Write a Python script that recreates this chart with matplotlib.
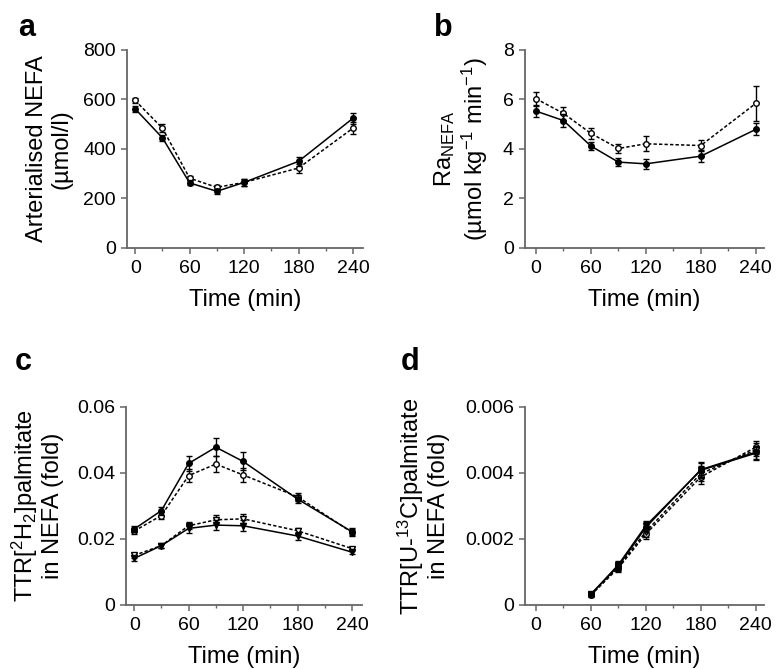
import matplotlib
matplotlib.use('Agg')
import matplotlib.pyplot as plt
from matplotlib.ticker import FixedLocator

plt.rcParams['font.family'] = ['Liberation Sans', 'DejaVu Sans']

# data
times = [0, 30, 60, 90, 120, 180, 240]
times_d = [60, 90, 120, 180, 240]

nefa_filled = [562, 445, 263, 229, 265, 350, 524]
nefa_filled_err = [12, 12, 10, 10, 15, 18, 22]
nefa_open = [596, 484, 282, 245, 265, 323, 484]
nefa_open_err = [12, 15, 10, 10, 15, 18, 25]

ra_filled = [5.53, 5.15, 4.12, 3.47, 3.40, 3.71, 4.79]
ra_filled_err = [0.23, 0.26, 0.18, 0.16, 0.20, 0.23, 0.24]
ra_open = [6.03, 5.44, 4.63, 4.02, 4.21, 4.14, 5.84]
ra_open_err = [0.29, 0.27, 0.23, 0.20, 0.31, 0.22, 0.71]

h2_circ_filled = [0.0230, 0.0286, 0.0429, 0.0478, 0.0435, 0.0321, 0.0222]
h2_circ_filled_err = [0.0010, 0.0012, 0.0022, 0.0028, 0.0027, 0.0012, 0.0010]
h2_circ_open = [0.0224, 0.0271, 0.0392, 0.0427, 0.0394, 0.0328, 0.0220]
h2_circ_open_err = [0.0010, 0.0010, 0.0020, 0.0023, 0.0022, 0.0012, 0.0010]
h2_tri_filled = [0.0141, 0.0180, 0.0232, 0.0242, 0.0240, 0.0209, 0.0160]
h2_tri_filled_err = [0.0008, 0.0006, 0.0014, 0.0016, 0.0016, 0.0012, 0.0007]
h2_tri_open = [0.0150, 0.0180, 0.0240, 0.0258, 0.0261, 0.0225, 0.0171]
h2_tri_open_err = [0.0008, 0.0006, 0.0010, 0.0014, 0.0014, 0.0008, 0.0006]

c13_circ_filled = [0.00033, 0.00118, 0.00235, 0.00410, 0.00463]
c13_tri_filled = [0.00032, 0.00122, 0.00240, 0.00408, 0.00460]
c13_circ_open = [0.00030, 0.00112, 0.00215, 0.00388, 0.00478]
c13_tri_open = [0.00031, 0.00116, 0.00222, 0.00398, 0.00470]
c13_err = [0.00005, 0.00012, 0.00015, 0.00022, 0.00020]

xticks = [0, 60, 120, 180, 240]
spine_col = '#666666'


def style(ax, xlim, ylim, yticks, yticklabels, ylabel, labelpad):
    ax.set_xlim(*xlim)
    ax.set_ylim(*ylim)
    ax.set_xticks(xticks)
    ax.xaxis.set_minor_locator(FixedLocator([30, 90, 150, 210]))
    ax.set_yticks(yticks)
    ax.set_yticklabels(yticklabels)
    for s in ['top', 'right']:
        ax.spines[s].set_visible(False)
    for s in ['left', 'bottom']:
        ax.spines[s].set_color(spine_col)
        ax.spines[s].set_linewidth(1.3)
    ax.tick_params(which='major', length=4, width=1.1, color=spine_col,
                   labelsize=14, pad=4)
    ax.tick_params(axis='x', which='major', pad=5)
    ax.tick_params(which='minor', length=2.5, width=1.0, color=spine_col)
    ax.set_xlabel('Time (min)', fontsize=17, labelpad=8)
    ax.set_ylabel(ylabel, fontsize=17, labelpad=labelpad, linespacing=1.12)


def series(ax, x, y, err, marker, filled):
    ls = '-' if filled else (0, (2.2, 1.4))
    ax.errorbar(x, y, yerr=err, color='black', lw=1.1, ls=ls,
                marker=marker, ms=4 if marker == 'o' else 5,
                mfc='black' if filled else 'white', mec='black', mew=1.0,
                ecolor='black', elinewidth=1.0, capsize=2.5, capthick=1.0,
                zorder=3 if filled else 2)


fig = plt.figure(figsize=(7.76, 6.69), dpi=100)

ax_a = fig.add_axes([0.1637, 0.6293, 0.304, 0.296])
ax_b = fig.add_axes([0.6765, 0.6293, 0.308, 0.296])
ax_c = fig.add_axes([0.1624, 0.0957, 0.304, 0.296])
ax_d = fig.add_axes([0.6765, 0.0957, 0.308, 0.296])

# a
series(ax_a, times, nefa_open, nefa_open_err, 'o', False)
series(ax_a, times, nefa_filled, nefa_filled_err, 'o', True)
style(ax_a, (-9, 251), (0, 800), [0, 200, 400, 600, 800],
      ['0', '200', '400', '600', '800'],
      'Arterialised NEFA\n(\u00b5mol/l)', 8)

# b
series(ax_b, times, ra_open, ra_open_err, 'o', False)
series(ax_b, times, ra_filled, ra_filled_err, 'o', True)
style(ax_b, (-12, 249), (0, 8), [0, 2, 4, 6, 8],
      ['0', '2', '4', '6', '8'],
      'Ra$\\mathregular{_{NEFA}}$\n(\u00b5mol kg$\\mathregular{^{-1}}$ min$\\mathregular{^{-1}}$)', 9)

# c
series(ax_c, times, h2_circ_open, h2_circ_open_err, 'o', False)
series(ax_c, times, h2_tri_open, h2_tri_open_err, 'v', False)
series(ax_c, times, h2_circ_filled, h2_circ_filled_err, 'o', True)
series(ax_c, times, h2_tri_filled, h2_tri_filled_err, 'v', True)
style(ax_c, (-9, 251), (0, 0.06), [0, 0.02, 0.04, 0.06],
      ['0', '0.02', '0.04', '0.06'],
      'TTR[$\\mathregular{^2}$H$\\mathregular{_2}$]palmitate\nin NEFA (fold)', 9)

# d
series(ax_d, times_d, c13_circ_open, c13_err, 'o', False)
series(ax_d, times_d, c13_tri_open, c13_err, 'v', False)
series(ax_d, times_d, c13_circ_filled, c13_err, 'o', True)
series(ax_d, times_d, c13_tri_filled, c13_err, 'v', True)
style(ax_d, (-12, 249), (0, 0.006), [0, 0.002, 0.004, 0.006],
      ['0', '0.002', '0.004', '0.006'],
      'TTR[U-$\\mathregular{^{13}}$C]palmitate\nin NEFA (fold)', 11)

# panel letters
for txt, x, y in [('a', 18, 36), ('b', 434, 36), ('c', 15, 370), ('d', 401, 370)]:
    fig.text(x / 776, 1 - y / 669, txt, fontsize=22, fontweight='bold',
             ha='left', va='baseline')

fig.savefig('out.png', dpi=100)
